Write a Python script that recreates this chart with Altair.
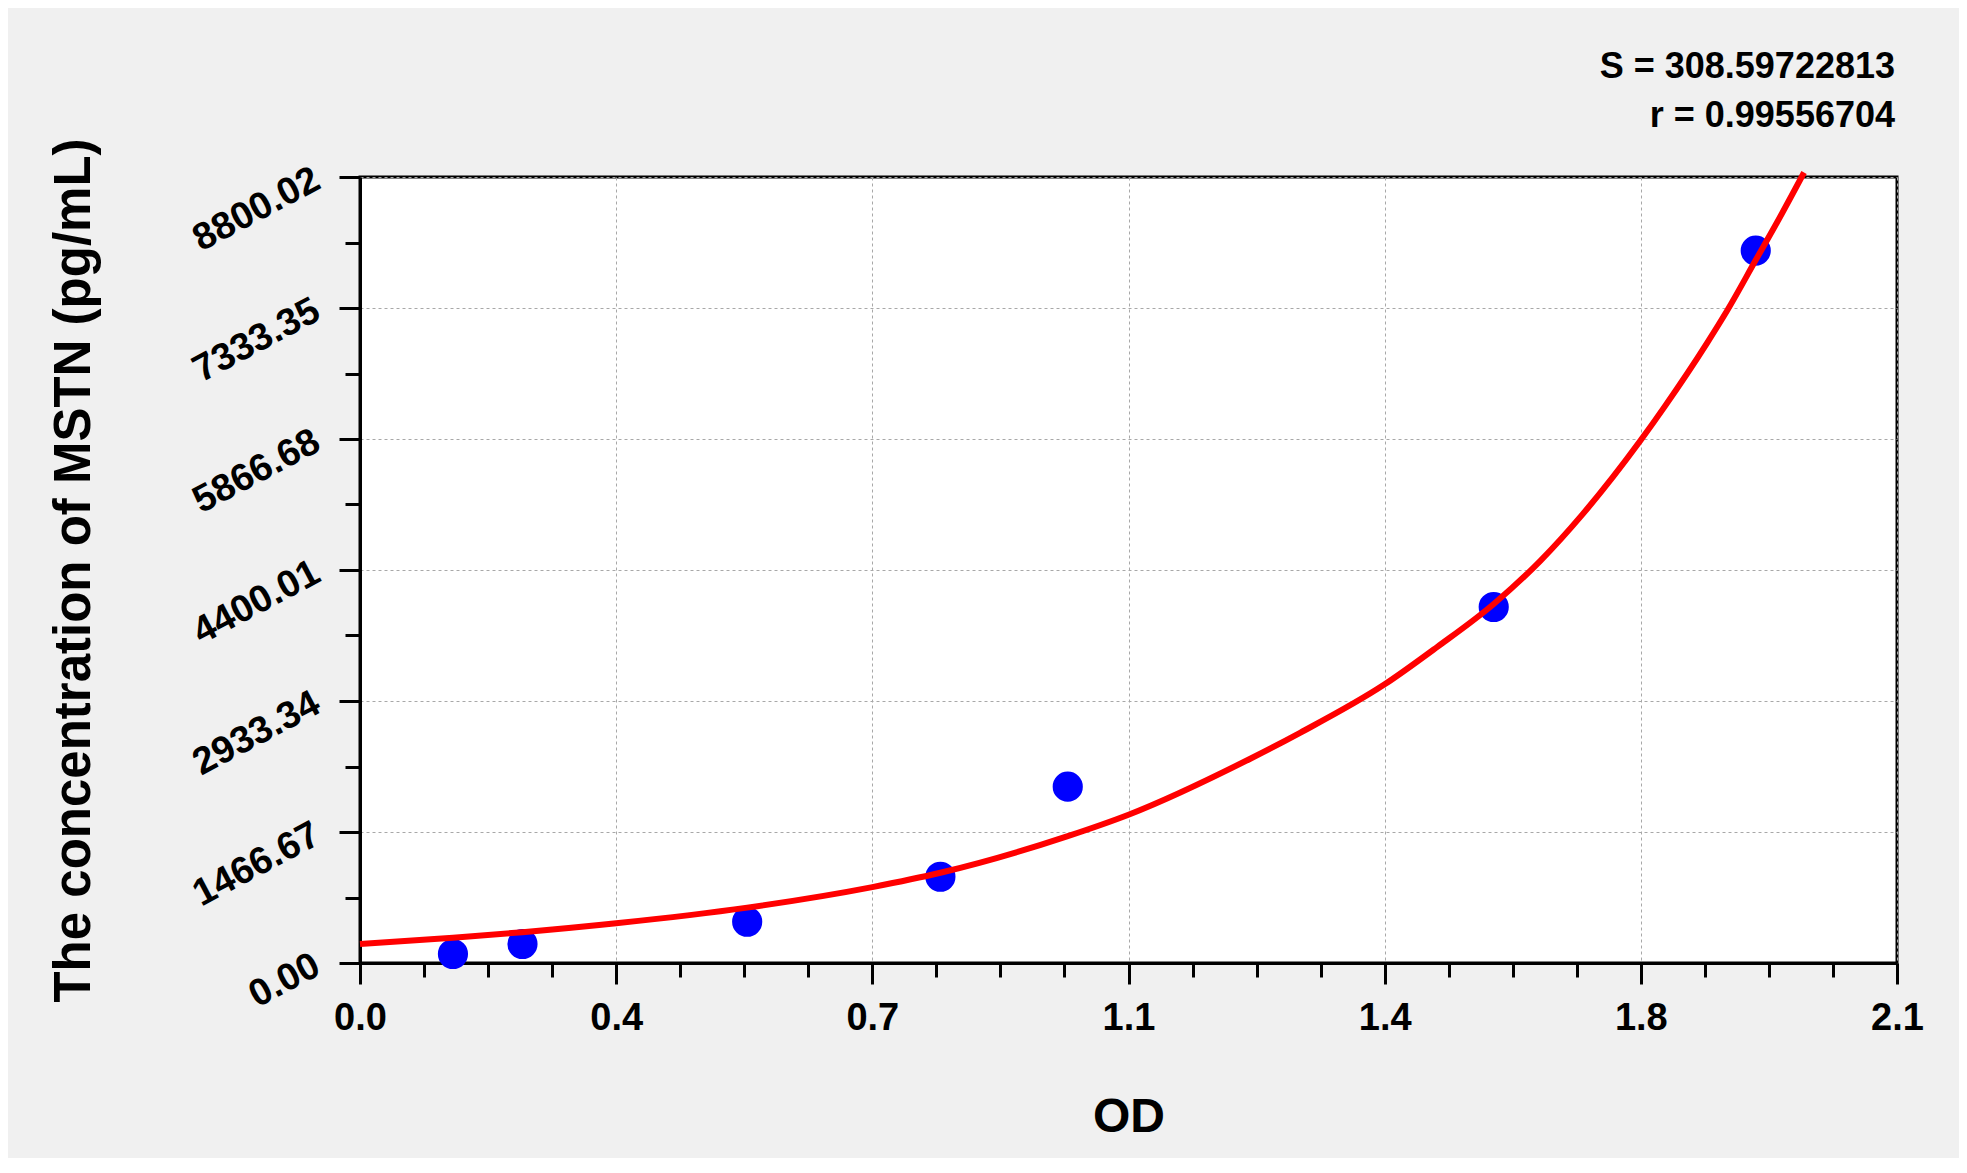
import json
import altair as alt
import pandas as pd

# ---- data ----
od_points = [0.127, 0.222, 0.529, 0.793, 0.967, 1.549, 1.907]
conc_points = [101, 213, 462, 966, 1974, 3986, 7975]

curve_od = [0.0, 0.127, 0.222, 0.35, 0.529, 0.70, 0.793, 0.967, 1.05, 1.217,
            1.285, 1.40, 1.472, 1.549, 1.613, 1.670, 1.750, 1.783, 1.840,
            1.868, 1.907, 1.936, 1.973]
curve_conc = [213, 282, 345, 445, 620, 850, 1010, 1420, 1660, 2290,
              2580, 3120, 3540, 4020, 4505, 5020, 5855, 6235, 6935,
              7305, 7870, 8290, 8850]

x_tick_labels = ["0.0", "0.4", "0.7", "1.1", "1.4", "1.8", "2.1"]
y_tick_labels = ["0.00", "1466.67", "2933.34", "4400.01", "5866.68", "7333.35", "8800.02"]
stats_lines = ["S = 308.59722813", "r = 0.99556704"]
x_title = "OD"
y_title = "The concentration of MSTN (pg/mL)"

X_MAX = 2.1
Y_MAX = 8800.02
X_STEP = X_MAX / 6
Y_STEP = Y_MAX / 6
x_ticks = [round(i * X_MAX / 24, 6) for i in range(25)]
y_ticks = [round(i * Y_MAX / 24, 4) for i in range(25)]

x_major = f"abs(datum.value/{X_STEP} - round(datum.value/{X_STEP})) < 0.01"
y_major = f"abs(datum.value/{Y_STEP} - round(datum.value/{Y_STEP})) < 0.01"

FONT = "Liberation Sans"

pts = pd.DataFrame({"od": od_points, "conc": conc_points})
crv = pd.DataFrame({"od": curve_od, "conc": curve_conc})

x_axis = alt.Axis(
    values=x_ticks,
    labelExpr=f"({x_major}) ? {json.dumps(x_tick_labels)}[round(datum.value/{X_STEP})] : ''",
    tickSize={"condition": {"test": x_major, "value": 21}, "value": 14},
    tickWidth=3, tickColor="black",
    domainColor="black", domainWidth=3,
    grid=True,
    gridOpacity={"condition": {"test": x_major, "value": 1}, "value": 0},
    gridColor="#a8a8a8", gridDash=[3, 3], gridWidth=1,
    labelFont=FONT, labelFontSize=38, labelFontWeight="bold", labelColor="black",
    labelPadding=15, labelFlush=False, labelOverlap=False,
    title=x_title, titleFont=FONT, titleFontSize=48, titleFontWeight="bold",
    titleColor="black", titleY=168, titleBaseline="alphabetic",
)

y_axis = alt.Axis(
    values=y_ticks,
    labelExpr=f"({y_major}) ? {json.dumps(y_tick_labels)}[round(datum.value/{Y_STEP})] : ''",
    tickSize={"condition": {"test": y_major, "value": 21}, "value": 15},
    tickWidth=3, tickColor="black",
    domainColor="black", domainWidth=3,
    grid=True,
    gridOpacity={"condition": {"test": y_major, "value": 1}, "value": 0},
    gridColor="#a8a8a8", gridDash=[3, 3], gridWidth=1,
    labelFont=FONT, labelFontSize=38, labelFontWeight="bold", labelColor="black",
    labelAngle=332, labelAlign="right", labelBaseline="middle",
    labelPadding=22, labelFlush=False, labelOverlap=False,
    title=y_title, titleFont=FONT, titleFontSize=51, titleFontWeight="bold",
    titleColor="black", titleAngle=270, titleX=-271, titleY=393,
    titleAlign="center", titleBaseline="alphabetic",
)

x_enc = alt.X("od:Q", scale=alt.Scale(domain=[0, X_MAX], nice=False, zero=False), axis=x_axis)
y_enc = alt.Y("conc:Q", scale=alt.Scale(domain=[0, Y_MAX], nice=False, zero=False), axis=y_axis)

points = alt.Chart(pts).mark_circle(size=910, color="#0000ff", opacity=1).encode(x=x_enc, y=y_enc)

curve = alt.Chart(crv).mark_line(color="#ff0000", strokeWidth=6, interpolate="monotone").encode(
    x=alt.X("od:Q"), y=alt.Y("conc:Q")
)

texts = []
for line, ypos in zip(stats_lines, [-99, -50]):
    texts.append(
        alt.Chart(pd.DataFrame({"t": [line]})).mark_text(
            font=FONT, fontSize=36, fontWeight="bold", color="black",
            align="right", baseline="alphabetic"
        ).encode(text="t:N", x=alt.value(1535), y=alt.value(ypos))
    )

chart = alt.layer(points, curve, *texts).properties(
    width=1537, height=786,
    autosize=alt.AutoSizeParams(type="none"),
    padding={"left": 352, "top": 169, "right": 62, "bottom": 195},
).configure(
    background="#f0f0f0", font=FONT
).configure_view(
    fill="white", stroke="black", strokeWidth=3
)

chart.save("out.html", embed_options={"renderer": "svg", "actions": False})
